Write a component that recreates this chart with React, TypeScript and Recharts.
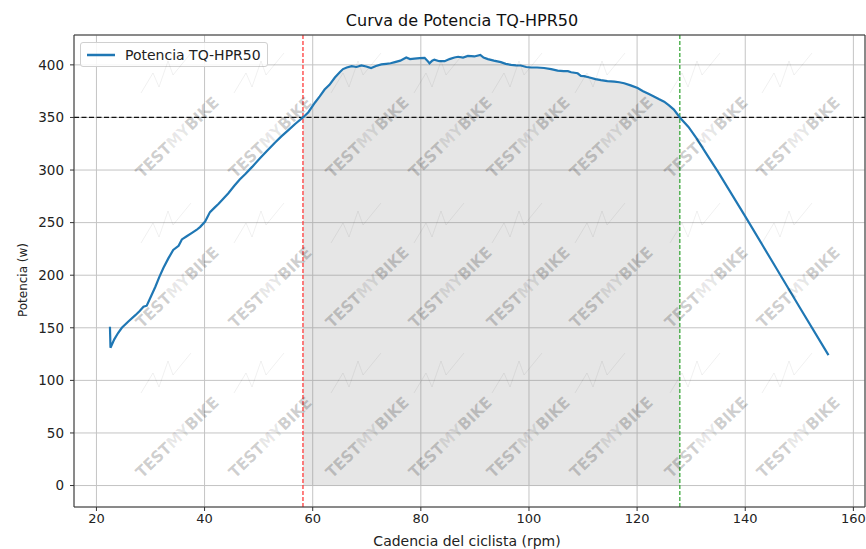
import React from "react";
import {
  ComposedChart,
  Line,
  Area,
  XAxis,
  YAxis,
  CartesianGrid,
  ReferenceLine,
} from "recharts";

// ---- data ----
const cadence = [
  22.5, 22.6, 23.3, 24.0, 24.7, 25.9, 27.2, 28.0, 28.7, 29.3, 30.1, 30.9, 31.6, 32.4, 33.3, 34.2, 35.2, 35.8,
  36.7, 37.6, 38.5, 39.2, 40.1, 41.0, 41.8, 42.6, 43.5, 44.4, 45.5, 46.5, 47.5, 48.8, 50.2, 51.7, 53.0, 54.2,
  55.5, 56.8, 58.2, 59.2, 60.4, 61.3, 62.2, 63.1, 64.1, 65.0, 65.6, 66.3, 67.2, 68.1, 69.0, 69.9, 70.8, 71.7,
  72.7, 73.6, 74.4, 75.2, 76.2, 77.3, 78.0, 78.8, 79.8, 80.7, 81.2, 81.6, 82.1, 82.5, 83.4, 84.4, 85.3, 86.2,
  86.9, 87.8, 88.7, 89.9, 91.0, 91.6, 92.4, 93.5, 94.8, 95.7, 96.7, 97.6, 98.5, 99.5, 100.4, 101.5, 102.8,
  104.1, 105.3, 106.4, 107.2, 107.8, 109.0, 109.6, 110.2, 111.2, 112.3, 113.3, 114.5, 115.8, 116.7, 117.6,
  118.8, 120.1, 121.1, 122.1, 123.1, 124.0, 125.0, 125.9, 126.8, 127.9, 129.5, 131.0, 133.0, 135.0, 140.0,
  145.0, 150.0, 155.4,
];
const power = [
  151, 131, 139, 145, 150, 156, 162, 166, 170, 171, 180, 189, 198, 207, 216, 224, 228, 234,
  237, 240, 243, 246, 251, 260, 264, 268, 273, 278, 285, 291, 296, 303, 311, 319, 326, 332,
  338, 344, 350, 355, 364, 370, 376.5, 381, 388, 393, 396, 397.5, 398.8, 398, 399.4, 398.5, 397, 399,
  400.4, 401, 401.5, 402.6, 404, 407, 405.5, 406, 406.5, 406.7, 404, 401.5, 404, 405, 403.5, 403.5, 405.5, 407,
  407.7, 407, 408.5, 408, 409.5, 407, 405.5, 404, 402.6, 401, 400, 399.5, 399.4, 398, 397.5, 397.5, 397,
  396, 394.5, 394, 394, 393, 392, 389.5, 389.3, 388, 386.5, 385.5, 384.5, 384, 383.5, 382.5,
  380.5, 378, 375, 372.5, 370, 367.5, 365, 361.5, 357.5, 350, 341, 330, 314, 298, 256,
  213, 170, 124,
];
const xTicks = [20, 40, 60, 80, 100, 120, 140, 160];
const yTicks = [0, 50, 100, 150, 200, 250, 300, 350, 400];
const bandStart = 58.2;
const bandEnd = 127.9;
const thresholdPower = 350;
const seriesName = "Potencia TQ-HPR50";
const titleText = "Curva de Potencia TQ-HPR50";
const xLabel = "Cadencia del ciclista (rpm)";
const yLabel = "Potencia (w)";

const X_DOMAIN: [number, number] = [15.85, 162.15];
const Y_DOMAIN: [number, number] = [-20.4, 428.4];

const data = cadence.map((c, i) => ({
  x: c,
  y: power[i],
  band: c >= bandStart && c <= bandEnd ? power[i] : null,
}));

// ---- layout ----
const W = 866;
const H = 549;
const PLOT = { left: 74, top: 35, right: 865, bottom: 507 };
const FONT = "'DejaVu Sans', Verdana, sans-serif";

// watermark anchor points (decoration only)
const wmCols = [177, 270, 367, 450, 528, 611, 706, 798];
const wmRows = [137, 287, 437];

function Watermarks() {
  const items: React.ReactNode[] = [];
  wmRows.forEach((ry, ri) =>
    wmCols.forEach((cx, ci) => {
      items.push(
        <g key={`w${ri}-${ci}`}>
          <path
            d={`M ${cx - 36} ${ry - 44} L ${cx - 24} ${ry - 64} L ${cx - 18} ${ry - 50} L ${cx - 9} ${ry - 76} L ${cx - 4} ${ry - 62} L ${cx + 14} ${ry - 84}`}
            fill="none"
            stroke="#000"
            strokeOpacity={0.06}
            strokeWidth={1}
          />
          <text
            x={cx}
            y={ry}
            transform={`rotate(-44 ${cx} ${ry})`}
            textAnchor="middle"
            dominantBaseline="central"
            fontFamily="'DejaVu Sans Condensed', 'DejaVu Sans', sans-serif"
            fontWeight="bold"
            fontSize={16}
            textLength={108}
            lengthAdjust="spacingAndGlyphs"
          >
            <tspan fill="#000" fillOpacity={0.2}>TEST</tspan>
            <tspan fill="#000" fillOpacity={0.09}>MY</tspan>
            <tspan fill="#000" fillOpacity={0.2}>BIKE</tspan>
          </text>
        </g>
      );
    })
  );
  return (
    <svg
      width={W}
      height={H}
      style={{ position: "absolute", left: 0, top: 0, pointerEvents: "none" }}
    >
      <g>{items}</g>
      <text
        x={462}
        y={26}
        textAnchor="middle"
        fontFamily={FONT}
        fontSize={16}
        fill="#111"
      >
        {titleText}
      </text>
      <text
        x={467}
        y={546}
        textAnchor="middle"
        fontFamily={FONT}
        fontSize={14}
        fill="#222"
      >
        {xLabel}
      </text>
      <text
        x={22}
        y={(PLOT.top + PLOT.bottom) / 2 + 9}
        transform={`rotate(-90 22 ${(PLOT.top + PLOT.bottom) / 2 + 9})`}
        textAnchor="middle"
        dominantBaseline="central"
        fontFamily={FONT}
        fontSize={13}
        textLength={74}
        lengthAdjust="spacingAndGlyphs"
        fill="#222"
      >
        {yLabel}
      </text>
    </svg>
  );
}

function LegendBox() {
  return (
    <div
      style={{
        position: "absolute",
        left: 80,
        top: 42,
        boxSizing: "border-box",
        width: 188,
        height: 25,
        border: "1px solid #d0d0d0",
        borderRadius: 3,
        background: "rgba(255,255,255,0.85)",
        display: "flex",
        alignItems: "center",
        fontFamily: FONT,
        fontSize: 14,
        color: "#222",
      }}
    >
      <svg width={44} height={12} style={{ marginLeft: 5 }}>
        <line x1={1} y1={6} x2={29} y2={6} stroke="#1f77b4" strokeWidth={2.5} />
      </svg>
      <span style={{ marginLeft: -5 }}>{seriesName}</span>
    </div>
  );
}

export default function App() {
  return (
    <div style={{ position: "absolute", left: 0, top: 0, width: W, height: H, background: "#fff" }}>
      <ComposedChart
        width={W}
        height={H}
        data={data}
        margin={{ top: PLOT.top, right: W - PLOT.right, left: 0, bottom: 0 }}
      >
        <CartesianGrid stroke="#c4c4c4" strokeWidth={1} />
        <XAxis
          type="number"
          dataKey="x"
          domain={X_DOMAIN}
          ticks={xTicks}
          allowDataOverflow
          height={H - PLOT.bottom}
          tickSize={4}
          tickMargin={3}
          stroke="#333"
          tick={{ fill: "#222", fontSize: 13, fontFamily: FONT }}
        />
        <YAxis
          type="number"
          domain={Y_DOMAIN}
          ticks={yTicks}
          allowDataOverflow
          width={PLOT.left}
          tickSize={4}
          tickMargin={6}
          stroke="#333"
          tick={{ fill: "#222", fontSize: 13.5, fontFamily: FONT }}
        />
        <Area
          type="linear"
          dataKey="band"
          baseValue={0}
          fill="#808080"
          fillOpacity={0.2}
          stroke="none"
          isAnimationActive={false}
          activeDot={false}
          legendType="none"
        />
        <ReferenceLine x={bandStart} stroke="#ff3b3b" strokeWidth={1.3} strokeDasharray="4 2" />
        <ReferenceLine x={bandEnd} stroke="#3aa83a" strokeWidth={1.3} strokeDasharray="4 2" />
        <ReferenceLine y={thresholdPower} stroke="#111" strokeWidth={1.2} strokeDasharray="5 2.5" />
        <ReferenceLine y={Y_DOMAIN[1]} stroke="#333" strokeWidth={1} />
        <ReferenceLine x={X_DOMAIN[1]} stroke="#333" strokeWidth={1} />
        <Line
          type="linear"
          dataKey="y"
          name={seriesName}
          stroke="#1f77b4"
          strokeWidth={2.2}
          dot={false}
          activeDot={false}
          isAnimationActive={false}
        />
      </ComposedChart>
      <LegendBox />
      <Watermarks />
    </div>
  );
}
